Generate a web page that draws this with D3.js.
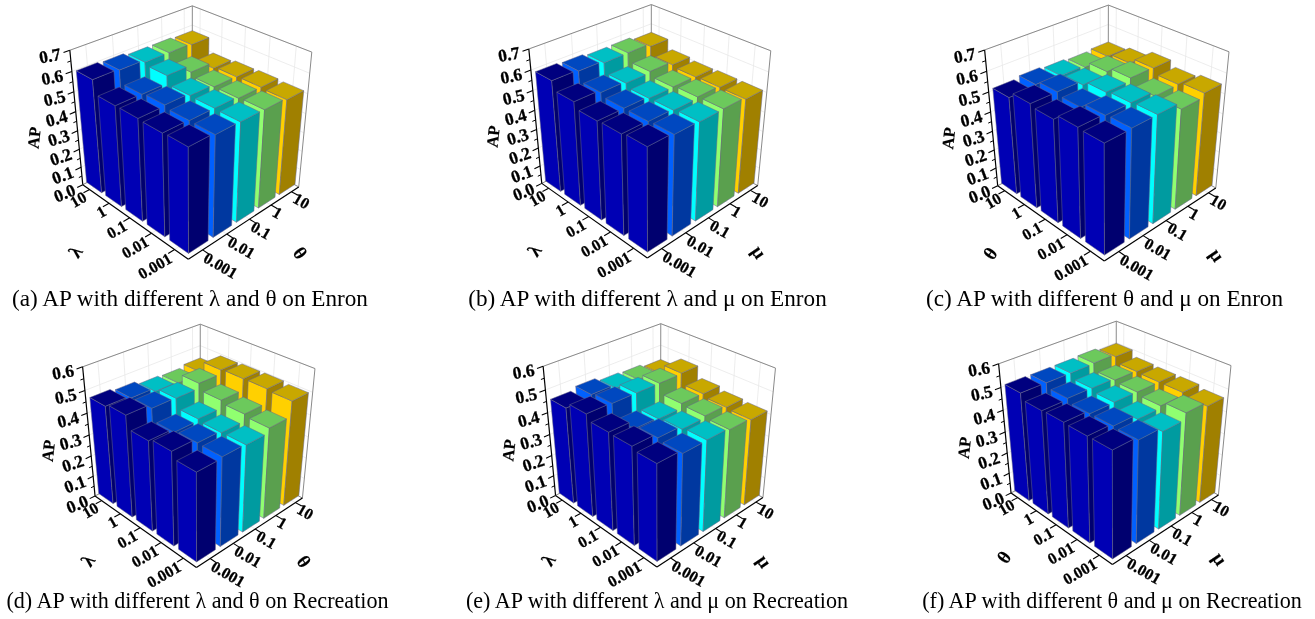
<!DOCTYPE html>
<html><head><meta charset="utf-8">
<script src="https://cdn.jsdelivr.net/npm/d3@7"></script>
<style>html,body{margin:0;padding:0;background:#fff;overflow:hidden}svg{display:block;filter:blur(.35px)}</style>
</head><body><div id="chart"></div>
<script>
const gridTicks = ["10","1","0.1","0.01","0.001"];
const captions = [
 "(a) AP with different λ and θ on Enron","(b) AP with different λ and μ on Enron","(c) AP with different θ and μ on Enron",
 "(d) AP with different λ and θ on Recreation","(e) AP with different λ and μ on Recreation","(f) AP with different θ and μ on Recreation"];
const xTitles = ["λ","λ","θ","λ","λ","θ"];
const yTitles = ["θ","μ","μ","θ","μ","μ"];
const zMaxes = [0.7,0.7,0.7,0.6,0.6,0.6];
const seriesColors = [
 {left:"#0000b4",right:"#00006f",top:"#00007f"},
 {left:"#0060ff",right:"#0038a0",top:"#0048c0"},
 {left:"#00ffff",right:"#009ba0",top:"#00bfc4"},
 {left:"#90ff70",right:"#5aa04e",top:"#6cc95c"},
 {left:"#ffd000",right:"#a08000",top:"#c8a800"}];
// rows: second-axis value (0.001 ... 10); columns: first-axis value (10 ... 0.001)
const apA = [[.593,.526,.527,.523,.527],[.587,.524,.532,.519,.518],[.575,.562,.520,.518,.515],[.574,.527,.508,.509,.513],[.568,.496,.505,.508,.504]];
const apB = [[.582,.539,.509,.513,.522],[.576,.527,.510,.509,.513],[.566,.518,.500,.502,.509],[.567,.524,.501,.509,.511],[.552,.507,.498,.501,.500]];
const apC = [[.507,.537,.525,.552,.547],[.516,.537,.522,.545,.550],[.507,.516,.537,.545,.551],[.499,.529,.552,.520,.517],[.505,.521,.549,.523,.537]];
const apD = [[.460,.472,.416,.428,.401],[.450,.453,.400,.409,.407],[.434,.450,.408,.400,.402],[.429,.472,.443,.431,.422],[.439,.490,.494,.495,.489]];
const apE = [[.450,.475,.450,.447,.434],[.463,.472,.413,.428,.419],[.447,.471,.406,.413,.421],[.442,.470,.426,.421,.413],[.429,.473,.424,.411,.406]];
const apF = [[.504,.478,.481,.478,.478],[.503,.483,.467,.467,.464],[.503,.481,.468,.445,.446],[.506,.473,.466,.454,.474],[.495,.469,.466,.466,.454]];
const panelValues = [apA,apB,apC,apD,apE,apF];

const cameras = [
 {cx:190.5,cy:122.3,S:80.7,capX:190,capY:305.5,capSize:23.2},
 {cx:649.5,cy:121,S:80.7,capX:647.5,capY:305.5,capSize:23.2},
 {cx:1106.5,cy:122.7,S:81.5,capX:1104.5,capY:305.5,capSize:23.2},
 {cx:198.5,cy:436,S:77.5,capX:197.5,capY:608,capSize:22.1},
 {cx:659,cy:435.5,S:77.5,capX:657,capY:608,capSize:22.1},
 {cx:1114.5,cy:433,S:77.5,capX:1112,capY:608,capSize:22.1}];
const yaw=46*Math.PI/180, pitch=31*Math.PI/180, dist=8.8, H=.97;
const gridRange=[-.85,.77], barHalf=.16, labelShift=.06;

const svg=d3.select("#chart").append("svg").attr("width",1315).attr("height",619);
const serif="'Liberation Serif','Times New Roman',serif";

panelValues.forEach((values,pi)=>{
  const cam=cameras[pi], zMax=zMaxes[pi];
  const g=svg.append("g");
  const sScale=d3.scalePoint().domain(gridTicks).range(gridRange);
  // t: 0.001 (front) is positive, 10 (right/back) is negative
  const tScale=d3.scalePoint().domain(gridTicks).range(gridRange);
  const tOf=v=>tScale(v);
  const zScale=d3.scaleLinear().domain([0,zMax]).range([-H,H]);
  const proj=(s,t,w)=>{
    const X=s*Math.cos(yaw)-t*Math.sin(yaw), D=s*Math.sin(yaw)+t*Math.cos(yaw);
    const yc=w*Math.cos(pitch)-D*Math.sin(pitch), zc=D*Math.cos(pitch)+w*Math.sin(pitch);
    const k=cam.S/(1-zc/dist);
    return [cam.cx+X*k, cam.cy-yc*k];
  };
  const line=d3.line();
  const seg=(a,b,stroke,w)=>g.append("path").attr("d",line([proj(...a),proj(...b)])).attr("stroke",stroke).attr("stroke-width",w).attr("fill","none");
  const face=(pts,fill,stroke,sw)=>g.append("path").attr("d",line(pts.map(p=>proj(...p)))+"Z").attr("fill",fill).attr("stroke",stroke).attr("stroke-width",sw).attr("stroke-linejoin","round");
  // walls
  const zMajor=d3.range(0,Math.round(zMax*10)+1).map(d=>d/10);
  const zMinor=d3.range(0,Math.round(zMax*10)).map(d=>d/10+.05);
  zMajor.forEach(v=>{const w=zScale(v);
    seg([-1,1,w],[-1,-1,w],"#e8e8e8",.8); seg([-1,-1,w],[1,-1,w],"#e8e8e8",.8);});
  gridTicks.forEach(v=>{
    seg([sScale(v),-1,-H],[sScale(v),-1,H],"#e8e8e8",.8);
    seg([-1,tOf(v),-H],[-1,tOf(v),H],"#e8e8e8",.8);
    seg([sScale(v),-1,-H],[sScale(v),1,-H],"#e8e8e8",.8);
    seg([-1,tOf(v),-H],[1,tOf(v),-H],"#e8e8e8",.8);
  });
  seg([-1,1,H],[-1,-1,H],"#8a8a8a",1); seg([-1,-1,H],[1,-1,H],"#8a8a8a",1);
  seg([-1,-1,-H],[-1,-1,H],"#8a8a8a",1); seg([1,-1,-H],[1,-1,H],"#8a8a8a",1);
  seg([-1,-1,-H],[-1,1,-H],"#8a8a8a",1); seg([-1,-1,-H],[1,-1,-H],"#8a8a8a",1);
  // bars
  const bars=[];
  gridTicks.slice().reverse().forEach((tv,j)=>gridTicks.forEach((sv,i)=>bars.push({s:sScale(sv),t:tOf(tv),v:values[j][i],c:seriesColors[j]})));
  bars.sort((a,b)=>(a.s+a.t)-(b.s+b.t));
  const edge="#66668a";
  bars.forEach(b=>{
    const s0=b.s-barHalf,s1=b.s+barHalf,t0=b.t-barHalf,t1=b.t+barHalf,w0=zScale(0),w1=zScale(b.v);
    face([[s0,t1,w0],[s1,t1,w0],[s1,t1,w1],[s0,t1,w1]],b.c.left,edge,.5);
    face([[s1,t1,w0],[s1,t0,w0],[s1,t0,w1],[s1,t1,w1]],b.c.right,edge,.5);
    face([[s0,t0,w1],[s1,t0,w1],[s1,t1,w1],[s0,t1,w1]],b.c.top,edge,.5);
  });
  // axes
  seg([-1,1,-H],[1,1,-H],"#000",1.2); seg([1,1,-H],[1,-1,-H],"#000",1.2); seg([-1,1,-H],[-1,1,H],"#000",1.2);
  const boldText=(p,rot,anchor,size,txt,heavy)=>g.append("text")
    .attr("transform",`translate(${p[0]},${p[1]}) rotate(${rot})`).attr("text-anchor",anchor).attr("dy",".35em")
    .attr("font-family",serif).attr("font-weight","bold").attr("font-size",size)
    .attr("stroke","#000").attr("stroke-width",heavy).text(txt);
  gridTicks.forEach(v=>{
    seg([sScale(v),1,-H],[sScale(v),1.1,-H],"#000",1.1);
    seg([1,tOf(v),-H],[1.1,tOf(v),-H],"#000",1.1);
    boldText(proj(sScale(v)+labelShift,1.12,-H),-30,"end",16,v,.3);
    boldText(proj(1.1,tOf(v)+labelShift,-H),30,"start",16,v,.3);
  });
  zMinor.forEach(v=>seg([-1,1,zScale(v)],[-1,1.05,zScale(v)],"#000",1));
  zMajor.forEach(v=>{
    seg([-1,1,zScale(v)],[-1,1.09,zScale(v)],"#000",1.1);
    boldText(proj(-1,1.13,zScale(v)),-22+12*(v/zMax),"end",17.5,d3.format(".1f")(v),.3);
  });
  boldText(proj(-1,1.62,.03),-84,"middle",16.5,"AP",.2);
  boldText(proj(0,1.85,-H),-55,"middle",19,xTitles[pi],.15);
  boldText(proj(1.82,0,-H),55,"middle",19,yTitles[pi],.15);
  g.append("text").attr("x",cam.capX).attr("y",cam.capY).attr("text-anchor","middle")
    .attr("font-family",serif).attr("font-size",cam.capSize).attr("fill","#000").text(captions[pi]);
});
</script></body></html>
